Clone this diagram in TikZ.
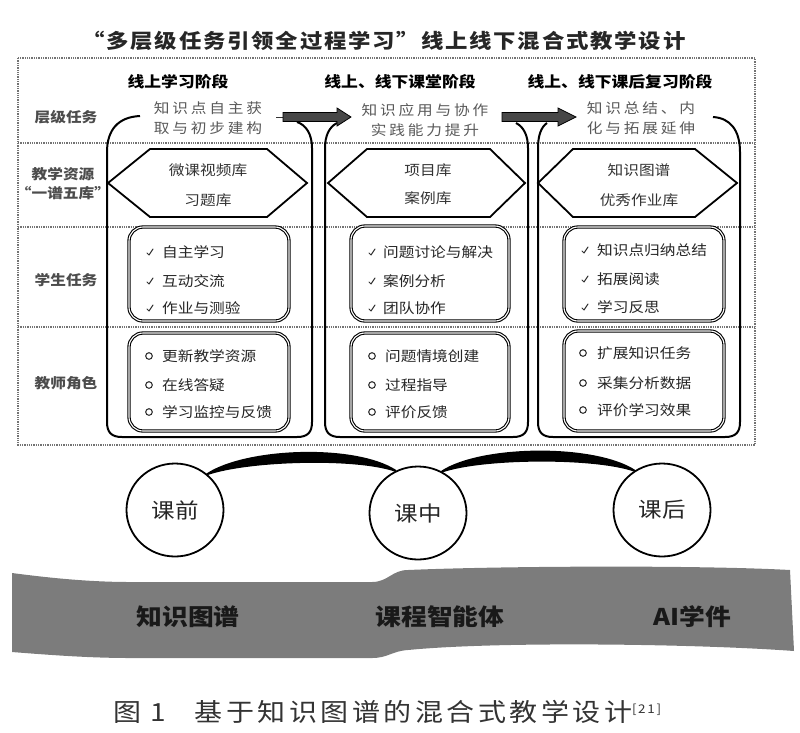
\documentclass[tikz,border=0pt]{standalone}
\usepackage{fontspec}
\setmainfont{Noto Sans CJK SC}[FakeStretch=1.12]
\usetikzlibrary{shapes.geometric}
\newcommand{\fsz}[2]{\fontsize{#1}{#2}\selectfont}
\tikzset{
  sepline/.style={draw=black!55, line width=1.3pt, densely dotted},
  grp/.style={draw=black, line width=2pt},
  hexa/.style={draw=black, line width=1.8pt, fill=white, line join=miter},
  boxx/.style={draw=black, double=white, double distance=1.1pt, line width=1.1pt,
    rounded corners=14pt, fill=white, inner sep=0pt},
  blk/.style={fill=black!72, draw=black, line width=0.8pt},
  head/.style={font=\fsz{15}{18}\bfseries, text=black, inner sep=0pt},
  htask/.style={font=\fsz{14}{20}\addfontfeatures{LetterSpace=20}, text=black!65,
    align=center, inner sep=0pt},
  lbl/.style={font=\fsz{14}{18}\bfseries, text=black!70, align=center, inner sep=0pt},
  res/.style={font=\fsz{14}{18}, text=black!80, inner sep=0pt},
  item/.style={font=\fsz{14}{18}, text=black!85, inner sep=0pt, anchor=west},
  tickm/.style={draw=black!80, line width=1pt, line cap=round, line join=round},
  ringm/.style={draw=black!80, line width=1.1pt},
  phase/.style={ellipse, draw=black, line width=1.8pt, fill=white,
    minimum width=97pt, minimum height=93pt, inner sep=0pt, font=\fsz{21}{24}, text=black!85},
  link/.style={fill=black, draw=black, line width=2pt, line join=round},
  bandtxt/.style={font=\fsz{23}{26}\bfseries, text=black!90, inner sep=0pt},
}
\begin{document}
\begin{tikzpicture}[x=1pt,y=-1pt]
\useasboundingbox (0,0) rectangle (800,732);

% title
\node[font=\fsz{20}{24}\bfseries\addfontfeatures{LetterSpace=9}, text=black!85, inner sep=0pt] (title) at (384,41)
  {“多层级任务引领全过程学习”线上线下混合式教学设计};

% outer dotted frame and row separators
\draw[sepline] (18,58) rectangle (755,445);
\draw[sepline] (18,143) -- (755,143);
\draw[sepline] (18,227) -- (755,227);
\draw[sepline] (18,327) -- (755,327);

% column group outlines
\draw[grp] (140,116) .. controls (118,117) and (107,130) .. (107,152) -- (107,422)
  .. controls (107,432) and (111,437) .. (122,437) -- (297,437)
  .. controls (308,437) and (312,432) .. (312,422) -- (312,148)
  .. controls (312,134) and (306,125) .. (297,122);
\draw[grp] (337,123) .. controls (329,127) and (325,136) .. (325,148) -- (325,422)
  .. controls (325,432) and (329,437) .. (340,437) -- (513,437)
  .. controls (524,437) and (528,432) .. (528,422) -- (528,148)
  .. controls (528,136) and (524,127) .. (516,123);
\draw[grp] (547,123) .. controls (541,127) and (538,136) .. (538,148) -- (538,422)
  .. controls (538,432) and (542,437) .. (553,437) -- (725,437)
  .. controls (736,437) and (740,432) .. (740,422) -- (740,152)
  .. controls (740,130) and (730,118) .. (713,117);

% block arrows
\draw[black!80, line width=1pt] (276,117) -- (283,117);
\filldraw[blk] (283,112.5) -- (337,112.5) -- (337,108) -- (351,117) -- (337,126)
  -- (337,121.5) -- (283,121.5) -- cycle;
\filldraw[blk] (502,112.5) -- (558,112.5) -- (558,108) -- (576,117) -- (558,126)
  -- (558,121.5) -- (502,121.5) -- cycle;

% row labels
\node[lbl] (l1) at (66,117) {层级任务};
\node[lbl] (l2) at (63,184) {教学资源\\[1pt]“一谱五库”};
\node[lbl] (l3) at (66,280) {学生任务};
\node[lbl] (l4) at (66,383) {教师角色};

% phase headers
\node[head] (h1) at (178,82) {线上学习阶段};
\node[head] (h2) at (400,82) {线上、线下课堂阶段};
\node[head] (h3) at (620,82) {线上、线下课后复习阶段};

% layered tasks
\node[htask] (t1) at (208,118) {知识点自主获\\取与初步建构};
\node[htask] (t2) at (425,120) {知识应用与协作\\实践能力提升};
\node[htask] (t3) at (641,118) {知识总结、内\\化与拓展延伸};

% resource hexagons
\draw[hexa] (108,183) -- (150,149) -- (267,149) -- (307,183) -- (267,217) -- (150,217) -- cycle;
\draw[hexa] (328,183) -- (367,149) -- (490,149) -- (525,183) -- (490,217) -- (367,217) -- cycle;
\draw[hexa] (538,183) -- (573,149) -- (695,149) -- (737,183) -- (695,217) -- (573,217) -- cycle;
\node[res] (r1a) at (208,170) {微课视频库};
\node[res] (r1b) at (208,200) {习题库};
\node[res] (r2a) at (428,170) {项目库};
\node[res] (r2b) at (428,198) {案例库};
\node[res] (r3a) at (639,170) {知识图谱};
\node[res] (r3b) at (639,200) {优秀作业库};

% student / teacher boxes
\node[boxx, minimum width=160pt, minimum height=94pt] (s1) at (209,274) {};
\node[boxx, minimum width=160pt, minimum height=98pt] (p1) at (209,382) {};
\node[boxx, minimum width=158pt, minimum height=95pt] (s2) at (430,273.5) {};
\node[boxx, minimum width=158pt, minimum height=98pt] (p2) at (430,382) {};
\node[boxx, minimum width=160pt, minimum height=94pt] (s3) at (644,274) {};
\node[boxx, minimum width=160pt, minimum height=100pt] (p3) at (644,381) {};

% items with check marks
\foreach \t/\yy [count=\i] in {自主学习/252, 互动交流/281, 作业与测验/308}{
  \node[item] (sa\i) at (162,\yy) {\t};
  \draw[tickm] (147,\yy+1) -- (149,\yy+3) -- (153,\yy-3);
}
\foreach \t/\yy [count=\i] in {问题讨论与解决/252, 案例分析/281, 团队协作/308}{
  \node[item] (sb\i) at (383,\yy) {\t};
  \draw[tickm] (369,\yy+1) -- (371,\yy+3) -- (375,\yy-3);
}
\foreach \t/\yy [count=\i] in {知识点归纳总结/250, 拓展阅读/279, 学习反思/307}{
  \node[item] (sc\i) at (597,\yy) {\t};
  \draw[tickm] (582,\yy+1) -- (584,\yy+3) -- (588,\yy-3);
}
% items with rings
\foreach \t/\yy [count=\i] in {更新教学资源/356, 在线答疑/385, 学习监控与反馈/412}{
  \node[item] (pa\i) at (162,\yy) {\t};
  \draw[ringm] (149,\yy) circle[radius=3.3pt];
}
\foreach \t/\yy [count=\i] in {问题情境创建/356, 过程指导/385, 评价反馈/412}{
  \node[item] (pb\i) at (385,\yy) {\t};
  \draw[ringm] (372,\yy) circle[radius=3.3pt];
}
\foreach \t/\yy [count=\i] in {扩展知识任务/353, 采集分析数据/383, 评价学习效果/410}{
  \node[item] (pc\i) at (597,\yy) {\t};
  \draw[ringm] (583,\yy) circle[radius=3.3pt];
}

% phase circles
\node[phase] (c1) at (175,510) {课前};
\node[phase] (c2) at (418,513) {课中};
\node[phase] (c3) at (662,510) {课后};
\filldraw[link] (c1.48) .. controls +(40,-26) and +(-40,-26) .. (c2.118)
  .. controls +(-40,-14) and +(40,-14) .. (c1.48) -- cycle;
\filldraw[link] (c2.60) .. controls +(40,-26) and +(-40,-26) .. (c3.125)
  .. controls +(-40,-14) and +(40,-14) .. (c2.60) -- cycle;

% grey band
\fill[fill={rgb,255:red,124;green,124;blue,124}]
  (12,573) .. controls (50,578) and (90,582) .. (130,582) -- (372,582)
  .. controls (388,582) and (392,570) .. (408,570)
  .. controls (500,566) and (700,565) .. (790,570) -- (794,651)
  .. controls (700,644) and (500,641) .. (408,650)
  .. controls (392,651) and (388,658) .. (372,658) -- (130,658)
  .. controls (90,658) and (50,655) .. (12,652) -- cycle;
\node[bandtxt] (b1) at (188,617) {知识图谱};
\node[bandtxt] (b2) at (440,617) {课程智能体};
\node[bandtxt] (b3) at (692,617) {AI学件};

% caption
\node[font=\fsz{25}{28}\addfontfeatures{LetterSpace=14}, text=black!80, inner sep=0pt, anchor=west]
  (cap) at (113,712) {图 1\hspace{28pt}基于知识图谱的混合式教学设计\raisebox{8pt}{\fsz{12}{14}[21]}};
\end{tikzpicture}
\end{document}
